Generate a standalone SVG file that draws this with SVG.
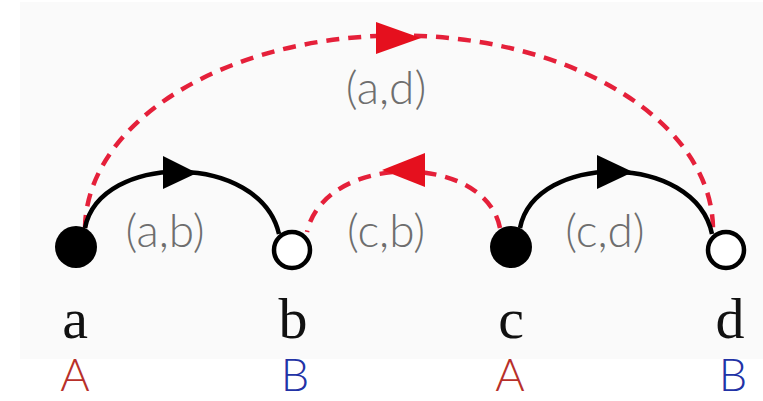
<svg xmlns="http://www.w3.org/2000/svg" width="763" height="401" viewBox="0 0 763 401">
<style>
.bg{fill:#fafafa}
.solid{fill:none;stroke:#000;stroke-width:4.5}
.dash{fill:none;stroke:#e5203a;stroke-width:4.5;stroke-dasharray:13 9}
.ahb{fill:#000}
.ahr{fill:#e5101e}
.filled{fill:#000}
.open{fill:#fff;stroke:#000;stroke-width:4.5}
.elab{font-family:Lato,"Open Sans",sans-serif;font-weight:300;font-size:46px;fill:#6e6e6e;text-anchor:middle}
.nlab{font-family:"Liberation Serif",serif;font-size:58px;fill:#111;text-anchor:middle}
.tA{font-family:Lato,"Open Sans",sans-serif;font-weight:300;font-size:45px;fill:#b8302a;text-anchor:middle}
.tB{font-family:Lato,"Open Sans",sans-serif;font-weight:300;font-size:45px;fill:#2233a6;text-anchor:middle}
</style>
<rect class="bg" x="20" y="2" width="743" height="357"/>
<g id="connectors">
  <path class="dash" d="M 85 228 A 314 194 0 0 1 713 231"/>
  <polygon class="ahr" points="376,22 421,38 376,54"/>
  <path class="solid" d="M 85 228 C 100 152 260 152 279 234"/>
  <polygon class="ahb" points="163,156 197,173 163,189"/>
  <path class="dash" d="M 500 228 C 485 152 325 152 307 232"/>
  <polygon class="ahr" points="425,153 382,170 425,187"/>
  <path class="solid" d="M 520 228 C 535 152 695 152 712 234"/>
  <polygon class="ahb" points="597,155 633,172 597,189"/>
</g>
<g id="edge-labels">
  <text class="elab" x="386" y="104">(a,d)</text>
  <text class="elab" x="165" y="247">(a,b)</text>
  <text class="elab" x="386" y="247">(c,b)</text>
  <text class="elab" x="605" y="247">(c,d)</text>
</g>
<g id="node-a">
  <circle class="filled" cx="76" cy="247" r="21"/>
  <text class="nlab" x="75" y="338">a</text>
  <text class="tA" x="75" y="391">A</text>
</g>
<g id="node-b">
  <circle class="open" cx="292" cy="250" r="18"/>
  <text class="nlab" x="293" y="338">b</text>
  <text class="tB" x="295" y="391">B</text>
</g>
<g id="node-c">
  <circle class="filled" cx="511" cy="247" r="21"/>
  <text class="nlab" x="511" y="338">c</text>
  <text class="tA" x="510" y="391">A</text>
</g>
<g id="node-d">
  <circle class="open" cx="726" cy="250" r="18"/>
  <text class="nlab" x="730" y="338">d</text>
  <text class="tB" x="733" y="391">B</text>
</g>
</svg>
